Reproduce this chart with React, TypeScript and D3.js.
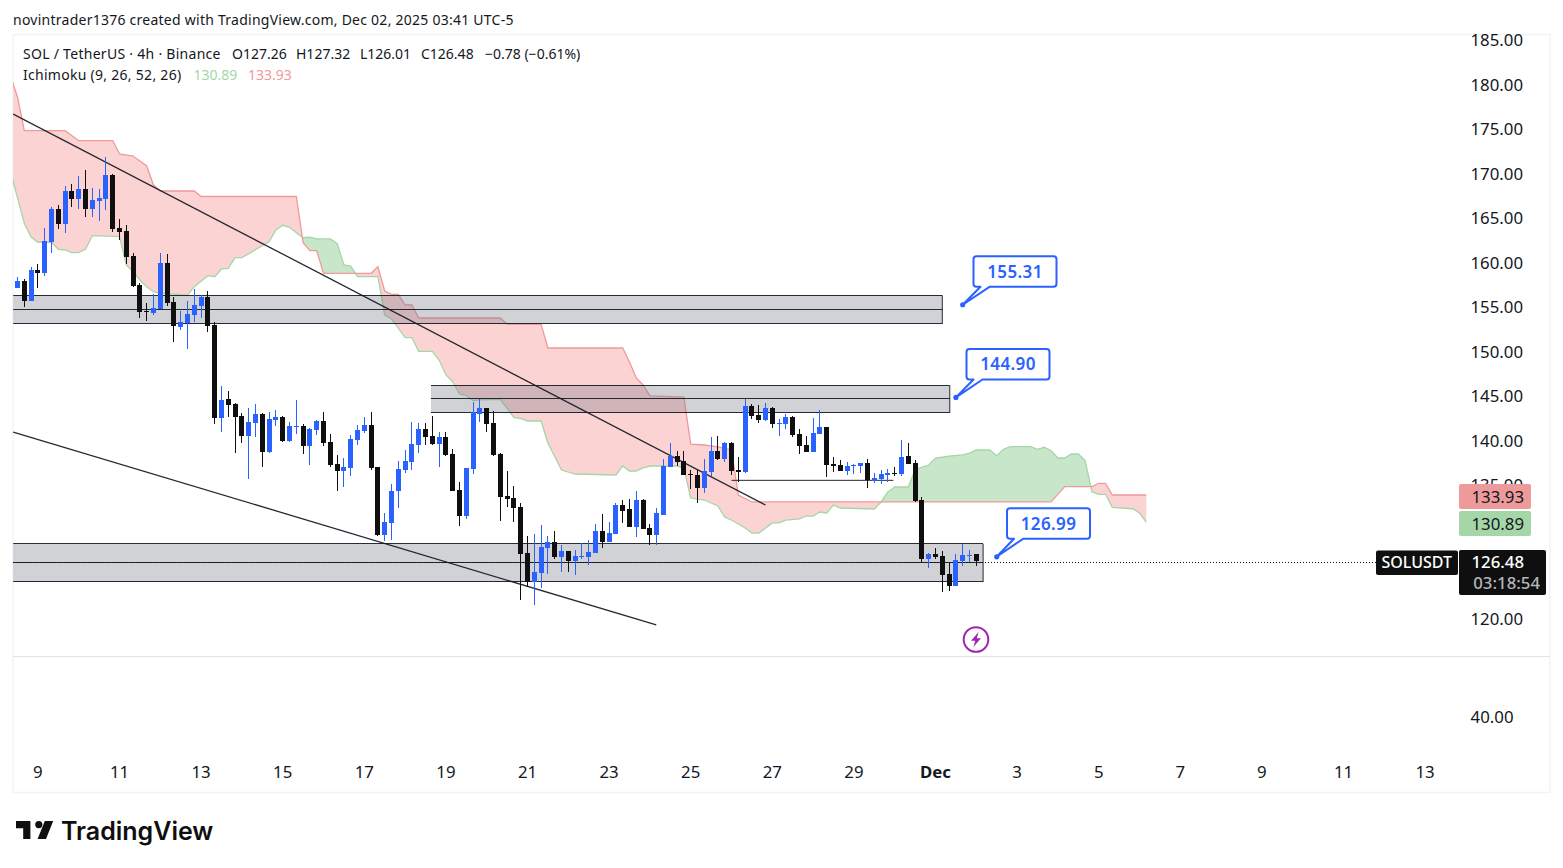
import React from "react";
import * as d3 from "d3";

const opens = [157.23,157.98,155.77,159.21,158.91,162.36,166.07,164.42,168.09,167.19,168.31,166.07,166.97,167.19,169.89,163.93,163.60,160.79,157.53,154.64,154.38,154.83,160.00,155.62,152.81,153.26,154.16,155.17,156.18,153.03,142.58,144.72,144.15,142.81,140.56,142.02,143.03,138.76,142.36,142.69,140.00,141.57,141.68,139.43,141.23,142.24,139.88,137.41,136.63,136.96,140.11,141.12,141.79,137.08,129.44,130.78,134.38,136.74,137.64,139.55,141.34,140.56,139.66,140.45,138.54,134.49,131.57,136.85,143.03,143.71,142.02,138.54,133.82,133.60,132.58,127.42,124.16,125.17,127.98,128.65,126.97,127.64,126.52,126.97,126.97,127.42,129.89,128.65,129.55,132.81,132.36,130.34,133.37,130.23,129.44,131.69,137.08,138.31,137.75,136.29,136.18,134.72,136.52,138.88,137.98,139.78,136.74,136.52,143.93,142.92,142.36,143.71,141.91,141.91,142.70,140.79,139.55,138.76,140.79,141.57,137.42,137.30,136.63,137.19,137.19,137.53,135.51,135.73,136.18,136.40,136.29,138.31,137.53,133.37,126.74,127.30,127.08,125.06,123.71,126.52,127.08,127.26];
const highs = [158.43,158.20,159.55,159.89,163.93,166.29,166.52,168.65,168.88,169.77,170.45,168.43,168.31,171.91,170.00,164.94,164.27,161.12,157.75,155.51,156.52,161.12,161.01,156.18,154.61,155.73,157.08,156.40,156.85,153.37,146.18,145.61,144.25,143.14,143.70,144.15,143.14,143.25,143.48,142.81,142.13,144.60,141.91,141.46,142.36,143.25,140.78,138.42,138.09,140.67,141.79,142.69,143.25,137.08,131.91,135.17,137.75,138.99,142.13,142.02,142.02,142.81,141.01,141.01,139.10,135.39,136.96,144.38,144.72,143.76,143.37,138.65,136.63,134.94,133.03,129.33,129.55,130.56,129.33,129.89,128.32,127.64,127.75,128.54,128.88,130.68,131.80,130.90,133.03,133.37,133.48,134.38,133.48,130.68,132.47,137.98,139.78,138.88,138.88,136.74,136.74,137.98,140.45,140.56,139.89,139.89,138.20,144.72,144.16,144.04,144.27,143.82,142.47,143.03,142.81,141.35,140.56,142.58,143.48,141.57,138.20,137.87,137.64,137.42,137.53,137.98,136.40,136.74,136.85,137.08,140.11,139.78,137.87,133.71,127.42,127.98,127.64,126.29,127.30,128.43,127.75,127.32];
const lows = [157.23,155.09,155.77,157.23,158.58,161.12,163.82,163.37,166.29,166.07,165.17,165.17,164.72,165.95,163.48,162.58,159.89,157.30,153.82,153.48,154.16,154.83,155.17,151.12,152.47,150.34,153.37,153.82,152.25,141.91,141.01,142.69,138.65,139.77,135.73,140.45,137.08,138.65,141.68,139.88,139.88,140.78,138.54,137.30,140.67,139.43,137.08,134.38,134.83,136.06,139.55,140.90,136.74,129.32,128.76,128.87,132.47,136.40,136.74,138.65,139.55,139.55,137.08,138.31,134.38,130.45,131.23,136.29,142.13,141.01,138.31,131.01,132.58,130.90,122.14,123.60,121.57,123.48,125.06,126.74,125.28,125.28,124.95,126.74,126.07,127.42,127.98,128.65,129.55,130.79,130.34,129.21,130.11,128.32,128.32,131.69,137.08,137.19,136.18,134.61,133.03,134.16,136.07,137.87,137.64,136.18,135.39,136.40,142.47,142.02,142.25,141.46,140.56,141.35,140.45,138.54,138.76,138.76,140.79,135.96,136.52,136.63,136.18,136.29,136.40,134.72,135.28,135.17,135.39,136.07,136.07,137.42,133.15,126.41,125.73,126.74,123.04,123.15,123.71,125.96,126.41,126.01];
const closes = [157.98,155.77,159.21,158.91,162.47,166.07,164.42,168.09,167.19,168.31,166.07,167.08,167.30,169.89,163.82,163.48,160.67,157.42,154.49,154.53,154.94,160.00,155.51,152.92,153.37,154.27,155.28,156.18,152.92,142.58,144.60,144.04,142.69,140.56,142.13,143.03,138.76,142.47,142.69,140.00,141.68,141.68,139.43,141.34,142.24,139.77,137.30,136.63,137.08,140.22,141.23,141.79,136.96,129.44,130.90,134.38,136.85,137.75,139.66,141.34,140.45,139.66,140.45,138.42,134.38,131.57,136.96,143.22,143.71,141.91,138.43,133.71,133.48,132.47,127.30,124.16,125.28,128.09,128.65,126.97,127.64,126.52,127.08,127.08,127.53,129.89,128.65,129.66,132.81,132.14,130.34,133.37,130.11,129.44,131.91,137.19,138.35,137.64,136.18,136.18,134.72,136.63,138.88,137.98,139.78,136.63,136.52,143.93,142.81,142.36,143.71,141.91,142.02,142.70,140.67,139.44,138.76,140.90,141.57,137.30,137.19,136.63,137.19,137.30,137.53,135.62,135.84,136.29,136.40,136.29,138.20,137.42,133.26,126.74,127.30,126.97,124.95,123.71,126.63,127.19,127.19,126.48];

const spanBIndex = [-1,0,1,7,9,14,15,17,19,20,21,26,27,41,42,43,44,45,52,53,54,55,56,57,58,59,71,72,77,78,89,90,91,92,93,98,99,101,103,105,106,108,152,154,158,159,160,161,166];
const spanBValue = [180.90,178.65,174.87,174.87,173.74,173.74,172.25,172.02,170.90,168.76,168.09,168.09,167.47,167.47,162.28,161.38,161.38,158.84,158.84,159.58,156.85,156.48,156.48,155.28,155.28,153.82,153.82,153.11,153.11,150.45,150.45,148.88,147.08,146.29,145.06,144.94,139.66,139.55,139.33,138.99,133.93,133.15,133.15,134.87,134.87,135.25,135.25,133.93,133.93];
const spanAIndex = [-1,1,2,3,5,6,7,8,9,10,11,15,16,17,18,19,20,21,25,26,28,29,30,31,32,33,37,38,39,40,41,42,43,44,46,47,48,49,50,53,54,55,57,58,59,61,62,63,64,65,66,67,68,71,73,74,75,77,78,80,82,88,89,90,91,92,93,97,98,99,101,103,104,105,107,108,109,111,112,113,115,116,117,118,119,120,121,126,127,128,129,131,132,133,134,135,137,139,140,141,143,144,145,146,149,150,151,152,153,154,155,156,157,158,159,160,161,164,165,166];
const spanAValue = [170.20,164.46,162.92,162.33,162.33,161.54,161.46,161.16,161.16,161.54,163.07,162.96,159.78,159.02,158.09,157.34,156.78,156.60,156.40,157.34,158.57,158.46,159.33,159.40,160.60,160.60,162.39,163.71,164.24,164.01,163.40,162.84,162.89,162.70,162.70,162.21,159.78,159.66,158.46,158.46,154.16,153.71,151.61,151.61,150.08,150.08,149.10,147.42,146.66,145.28,145.09,144.53,144.61,144.69,142.64,142.53,142.25,142.25,139.78,136.74,136.29,136.18,137.19,136.63,136.63,136.97,137.19,137.19,136.97,133.60,133.37,132.70,131.46,131.12,130.22,129.66,129.66,130.79,130.79,131.12,131.24,131.57,131.57,132.02,131.91,132.81,132.47,132.36,133.15,134.27,134.83,134.83,136.74,137.08,137.30,138.09,138.31,138.43,138.65,138.99,138.99,138.35,139.07,139.36,139.36,139.07,139.29,138.91,138.09,138.09,138.54,138.54,137.79,134.30,134.01,134.01,132.55,132.39,131.91,130.89];

const priceTicks = [185,180,175,170,165,160,155,150,145,140,135,130,125,120];
const lowerPaneTick = "40.00";
const dayLabels = ["9","11","13","15","17","19","21","23","25","27","29","Dec","3","5","7","9","11","13"];
const firstDayIndex = 3;
const barsPerLabel = 12;

const zoneTop = [156.35,146.24,128.43];
const zoneMid = [154.78,144.78,126.38];
const zoneBottom = [153.15,143.15,124.16];
const zoneStart = [-0.63,60.8,-0.63];
const zoneEnd = [136,137.1,142];

const trendStartIndex = [-0.63,-0.63,105];
const trendStartPrice = [176.74,141.01,135.58];
const trendEndIndex = [110,93.93,128.8];
const trendEndPrice = [132.81,119.33,135.58];

const calloutText = ["155.31","144.90","126.99"];
const calloutPrice = [155.31,144.90,126.99];
const calloutIndex = [139,138,144];

const BLUE = "#2962ff";
const BLACK = "#0f0f0f";
const INK = "#131722";
const FONT = "'Noto Sans', sans-serif";

const x = d3.scaleLinear().domain([0, 141]).range([17.5, 976.3]);
const y = d3.scaleLinear().domain([185, 120]).range([40.5, 619]);

const a = d3.scaleLinear<number>().domain(spanAIndex).range(spanAValue);
const b = d3.scaleLinear<number>().domain(spanBIndex).range(spanBValue);
const samples = d3.range(-1, 166.01, 0.05);

const line = d3.line<number[]>().x(d => d[0]).y(d => d[1]);
const redArea = d3.area<number>().x(d => x(d)).y0(d => y(a(d))).y1(d => y(Math.max(a(d), b(d))));
const greenArea = d3.area<number>().x(d => x(d)).y0(d => y(b(d))).y1(d => y(Math.max(a(d), b(d))));
const aLine = d3.line<number>().x(i => x(i)).y((_, k) => y(spanAValue[k]));
const bLine = d3.line<number>().x(i => x(i)).y((_, k) => y(spanBValue[k]));

function Callout({ text, price, index, bx, by }: { text: string; price: number; index: number; bx: number; by: number }) {
  const px = x(index), py = y(price);
  const w = 83, h = 30.5;
  const d = `M${bx + 3},${by} H${bx + w - 3} Q${bx + w},${by} ${bx + w},${by + 3} V${by + h - 3} Q${bx + w},${by + h} ${bx + w - 3},${by + h} H${bx + 16} L${px},${py} L${bx + 7},${by + h} H${bx + 3} Q${bx},${by + h} ${bx},${by + h - 3} V${by + 3} Q${bx},${by} ${bx + 3},${by} Z`;
  return (
    <g>
      <path d={d} fill="#fff" stroke={BLUE} strokeWidth={2} strokeLinejoin="round" />
      <circle cx={px} cy={py} r={2.6} fill={BLUE} />
      <text x={bx + w / 2} y={by + h / 2 - 0.5} textAnchor="middle" dominantBaseline="central" fontSize={17} fontWeight={600} fill={BLUE} letterSpacing={0.4}>{text}</text>
    </g>
  );
}

export default function App() {
  const lastY = y(closes[closes.length - 1]);
  return (
    <svg width={1563} height={868} style={{ position: "absolute", left: 0, top: 0, display: "block", background: "#fff" }} fontFamily={FONT}>
      <defs>
        <clipPath id="pane"><rect x={13} y={34} width={1537} height={622} /></clipPath>
      </defs>
      <text x={13} y={24.5} fontSize={14} fill={INK} letterSpacing={0.25}>novintrader1376 created with TradingView.com, Dec 02, 2025 03:41 UTC-5</text>

      <rect x={13} y={34.5} width={1537} height={758} fill="none" stroke="#f0f3fa" strokeWidth={1.5} />
      <line x1={13} x2={1550} y1={656.5} y2={656.5} stroke="#e0e3eb" />

      <g clipPath="url(#pane)">
        <path d={redArea(samples)!} fill="#fcd3d3" />
        <path d={greenArea(samples)!} fill="#c8e6c9" />
        <path d={aLine(spanAIndex)!} fill="none" stroke="#a5d6a7" strokeWidth={1.3} />
        <path d={bLine(spanBIndex)!} fill="none" stroke="#ef9a9a" strokeWidth={1.3} />

        {zoneTop.map((t, k) => (
          <g key={k}>
            <rect x={x(zoneStart[k])} y={y(t)} width={x(zoneEnd[k]) - x(zoneStart[k])} height={y(zoneBottom[k]) - y(t)} fill="#787b86" fillOpacity={0.34} />
            {[t, zoneMid[k], zoneBottom[k]].map((p, j) => (
              <line key={j} x1={x(zoneStart[k])} x2={x(zoneEnd[k])} y1={Math.floor(y(p)) + 0.5} y2={Math.floor(y(p)) + 0.5} stroke={INK} strokeWidth={1} opacity={0.9} />
            ))}
            <line x1={x(zoneEnd[k])} x2={x(zoneEnd[k])} y1={y(t)} y2={y(zoneBottom[k])} stroke={INK} strokeWidth={1} opacity={0.9} />
          </g>
        ))}

        {trendStartIndex.map((s, k) => (
          <path key={k} d={line([[x(s), y(trendStartPrice[k])], [x(trendEndIndex[k]), y(trendEndPrice[k])]])!} stroke={INK} strokeWidth={k === 2 ? 1 : 1.3} fill="none" opacity={0.92} />
        ))}

        <line x1={13} x2={1459} y1={Math.ceil(lastY) + 0.5} y2={Math.ceil(lastY) + 0.5} stroke={BLACK} strokeWidth={1} strokeDasharray="1 2" />

        {opens.map((o, i) => {
          const cx = Math.floor(x(i));
          const c = closes[i];
          const col = c >= o ? BLUE : BLACK;
          const top = Math.round(y(Math.max(o, c)));
          const bot = Math.round(y(Math.min(o, c)));
          return (
            <g key={i} fill={col} shapeRendering="crispEdges">
              <rect x={cx} y={Math.round(y(highs[i]))} width={1} height={Math.max(1, Math.round(y(lows[i])) - Math.round(y(highs[i])))} />
              <rect x={cx - 2} y={top} width={5} height={Math.max(1, bot - top)} />
            </g>
          );
        })}
      </g>

      <Callout text={calloutText[0]} price={calloutPrice[0]} index={calloutIndex[0]} bx={973.5} by={256.3} />
      <Callout text={calloutText[1]} price={calloutPrice[1]} index={calloutIndex[1]} bx={966.5} by={349} />
      <Callout text={calloutText[2]} price={calloutPrice[2]} index={calloutIndex[2]} bx={1007} by={508.3} />

      <g transform="translate(976,639.5)" fill="none">
        <circle r={12.3} stroke="#9c27b0" strokeWidth={2} fill="#fff" />
        <path d="M2.6,-7.5 L-5,1.2 H-0.8 L-2.6,7.5 L5,-1.2 H0.8 Z" fill="#9c27b0" />
      </g>

      <g fontSize={14} fill={INK}>
        <text x={23} y={59} letterSpacing={0.28}>SOL / TetherUS · 4h · Binance</text>
        <text x={232} y={59}>O127.26</text>
        <text x={296} y={59}>H127.32</text>
        <text x={360} y={59}>L126.01</text>
        <text x={421} y={59}>C126.48</text>
        <text x={485} y={59}>−0.78 (−0.61%)</text>
        <text x={23} y={80} letterSpacing={0.28}>Ichimoku (9, 26, 52, 26)</text>
        <text x={193.5} y={80} fill="#a5d6a7">130.89</text>
        <text x={248} y={80} fill="#ef9a9a">133.93</text>
      </g>

      <g fontSize={16.8} fill={INK} textAnchor="end" dominantBaseline="central">
        {priceTicks.map(p => (
          <text key={p} x={1523} y={y(p) - 0.8}>{p.toFixed(2)}</text>
        ))}
        <text x={1513.5} y={716.5}>{lowerPaneTick}</text>
      </g>

      <g fontSize={16.8} fill={INK} textAnchor="middle" dominantBaseline="central">
        {dayLabels.map((d, k) => (
          <text key={k} x={x(firstDayIndex + k * barsPerLabel)} y={771.8} fontWeight={d === "Dec" ? 700 : 400}>{d}</text>
        ))}
      </g>

      <rect x={1459} y={484} width={72} height={25} rx={2} fill="#ef9a9a" />
      <rect x={1459} y={511} width={72} height={25} rx={2} fill="#a5d6a7" />
      <rect x={1459} y={550} width={87} height={45} rx={2} fill={BLACK} />
      <rect x={1376} y={550.5} width={82} height={24.5} rx={2} fill={BLACK} />
      <g fontSize={16.8} textAnchor="end" dominantBaseline="central">
        <text x={1524} y={496} fill={INK}>{spanBValue[spanBValue.length - 1].toFixed(2)}</text>
        <text x={1524} y={523} fill={INK}>{spanAValue[spanAValue.length - 1].toFixed(2)}</text>
        <text x={1524} y={561.5} fill="#fff" fontWeight={500}>{closes[closes.length - 1].toFixed(2)}</text>
        <text x={1540} y={582} fill="#b2b5be" fontWeight={500}>03:18:54</text>
        <text x={1452} y={561.5} fontSize={16} fill="#fff" fontWeight={500}>SOLUSDT</text>
      </g>

      <g transform="translate(13.6,813.8) scale(1.2)" fill="#0f0f0f">
        <path d="M14 6H2v6h6v9h6V6Zm13 15h-7l6-15h7l-6 15Zm-6-9a3 3 0 1 0 0-6 3 3 0 0 0 0 6Z" />
      </g>
      <text x={61} y={840} fontSize={25} fontWeight={600} fill="#0f0f0f" fontFamily="Inter, sans-serif">TradingView</text>
    </svg>
  );
}
